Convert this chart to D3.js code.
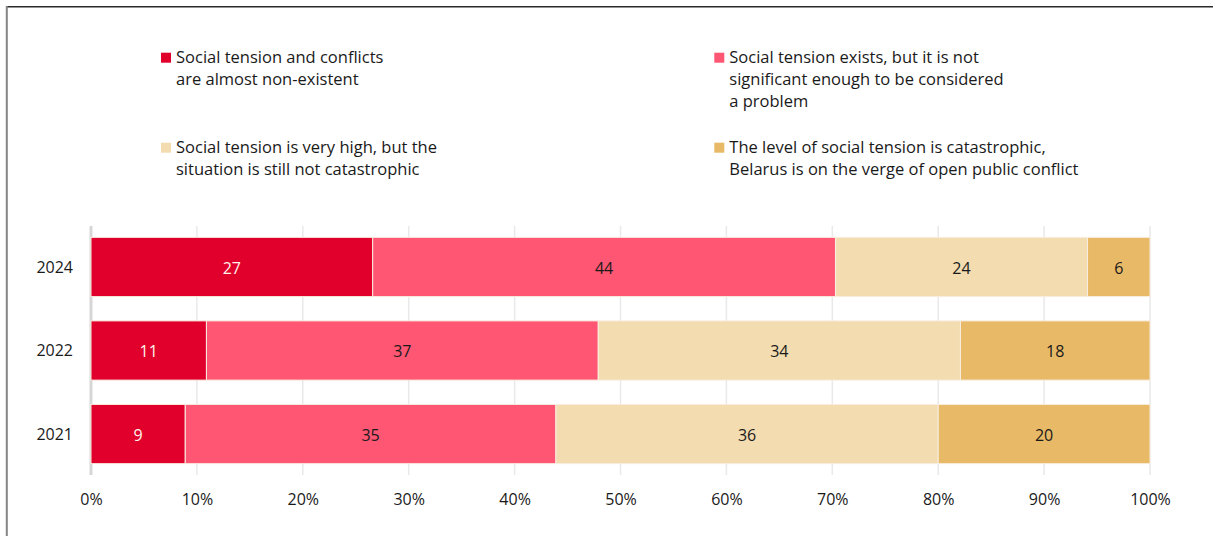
<!DOCTYPE html>
<html><head><meta charset="utf-8">
<script src="https://cdn.jsdelivr.net/npm/d3@7"></script>
<style>
body{margin:0;background:#fff;}
svg{display:block;font-family:'Open Sans',sans-serif;}
</style></head>
<body><svg id="chart" width="1213" height="536"></svg>
<script>
// ---- data ----
const years = ["2024", "2022", "2021"];
const seriesNames = [
  "Social tension and conflicts are almost non-existent",
  "Social tension exists, but it is not significant enough to be considered a problem",
  "Social tension is very high, but the situation is still not catastrophic",
  "The level of social tension is catastrophic, Belarus is on the verge of open public conflict"
];
const legendLines = [
  ["Social tension and conflicts", "are almost non-existent"],
  ["Social tension exists, but it is not", "significant enough to be considered", "a problem"],
  ["Social tension is very high, but the", "situation is still not catastrophic"],
  ["The level of social tension is catastrophic,", "Belarus is on the verge of open public conflict"]
];
const nonExistent    = [26.6, 10.9, 8.9];
const notSignificant = [43.7, 37.0, 35.0];
const veryHigh       = [23.8, 34.2, 36.1];
const catastrophic   = [5.9, 17.9, 20.0];
const xTicks = [0, 10, 20, 30, 40, 50, 60, 70, 80, 90, 100];
const colors = ["#E1002B", "#FF5673", "#F2DCB0", "#E8B967"];
const labelColors = ["#FFF4EC", "#1a1a1a", "#1a1a1a", "#1a1a1a"];

const seriesValues = [nonExistent, notSignificant, veryHigh, catastrophic];
const rows = years.map((y, i) => {
  const o = {year: y};
  seriesValues.forEach((s, k) => o["s" + k] = s[i]);
  return o;
});
const keys = ["s0", "s1", "s2", "s3"];
const stacked = d3.stack().keys(keys)(rows);

const svg = d3.select("#chart");

// frame
svg.append("line").attr("x1", 6).attr("x2", 1213).attr("y1", 6.8).attr("y2", 6.8)
  .attr("stroke", "#2a2a2a").attr("stroke-width", 1.4);
svg.append("line").attr("x1", 6.8).attr("x2", 6.8).attr("y1", 6).attr("y2", 536)
  .attr("stroke", "#858585").attr("stroke-width", 2);

// scales
const x = d3.scaleLinear().domain([0, 100]).range([91, 1150]);
const y = d3.scaleBand().domain(years).range([229, 472]).paddingInner(0.291).paddingOuter(0.1);

// grid
svg.append("g").selectAll("line").data(xTicks.filter(d => d > 0)).join("line")
  .attr("x1", d => x(d)).attr("x2", d => x(d))
  .attr("y1", 226).attr("y2", 475)
  .attr("stroke", "#e9e9e9").attr("stroke-width", 1.5);
svg.append("line").attr("x1", x(0)).attr("x2", x(0)).attr("y1", 226).attr("y2", 475)
  .attr("stroke", "#d6d6d6").attr("stroke-width", 3);

// bars
const g = svg.append("g");
stacked.forEach((layer, k) => {
  g.append("g").selectAll("rect").data(layer).join("rect")
    .attr("x", d => x(d[0]))
    .attr("width", d => x(d[1]) - x(d[0]))
    .attr("y", d => y(d.data.year))
    .attr("height", y.bandwidth())
    .attr("fill", colors[k])
    .attr("stroke", "#f8ede0").attr("stroke-width", 1);
});
stacked.forEach((layer, k) => {
  g.append("g").selectAll("text").data(layer).join("text")
    .attr("x", d => (x(d[0]) + x(d[1])) / 2)
    .attr("y", d => y(d.data.year) + y.bandwidth() / 2 + 1)
    .attr("dy", "0.36em")
    .attr("text-anchor", "middle")
    .style("font-size", "16px")
    .attr("fill", labelColors[k])
    .text(d => Math.round(d[1] - d[0]));
});

// y axis
const yAxis = svg.append("g").attr("transform", "translate(73,0)")
  .call(d3.axisLeft(y).tickSize(0).tickPadding(0));
yAxis.select(".domain").remove();
yAxis.selectAll("text").style("font-size", "16px").style("font-family", "'Open Sans',sans-serif")
  .attr("fill", "#1a1a1a").attr("dy", "0.36em");

// x axis
const xAxis = svg.append("g").attr("transform", "translate(0,494)")
  .call(d3.axisBottom(x).tickValues(xTicks).tickFormat(d => d + "%").tickSize(0).tickPadding(0));
xAxis.select(".domain").remove();
xAxis.selectAll("text").style("font-size", "16px").style("font-family", "'Open Sans',sans-serif")
  .attr("fill", "#1a1a1a").attr("dy", "0.71em");

// legend
const legPos = [[161, 52.7], [714.3, 52.7], [161, 142.7], [714.3, 142.7]];
legendLines.forEach((lines, k) => {
  const [lx, ly] = legPos[k];
  const lg = svg.append("g").attr("class", "legend-item");
  lg.append("rect").attr("x", lx).attr("y", ly).attr("width", 10).attr("height", 10).attr("fill", colors[k]);
  const t = lg.append("text").attr("x", lx + 15).attr("y", ly + 10.6)
    .style("font-size", "16.5px").attr("fill", "#1a1a1a");
  lines.forEach((ln, j) => {
    t.append("tspan").attr("x", lx + 15).attr("y", ly + 10.6 + j * 21.8).text(ln);
  });
});
</script></body></html>
